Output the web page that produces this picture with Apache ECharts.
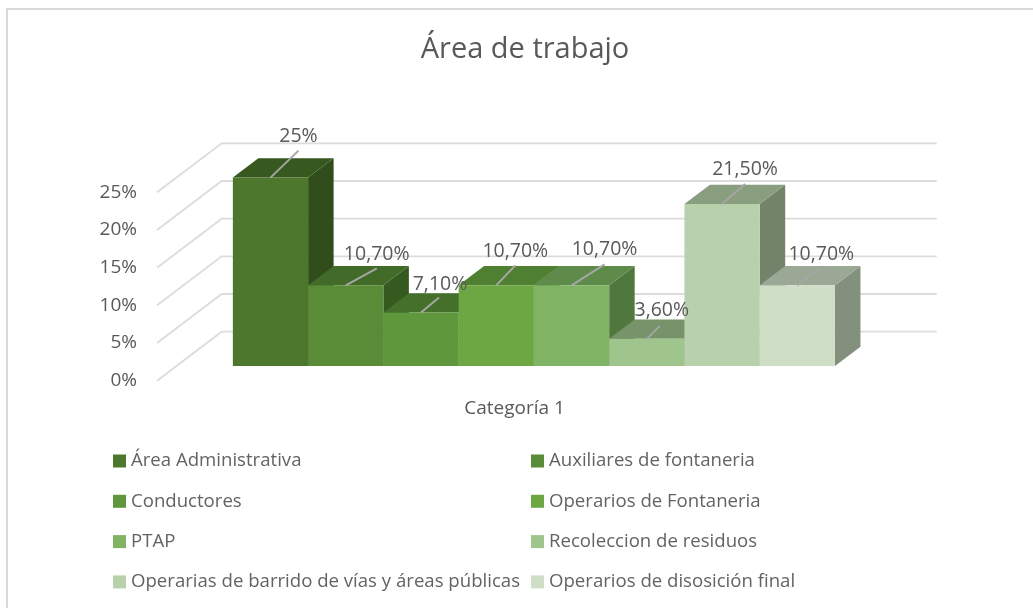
<!DOCTYPE html>
<html>
<head>
<meta charset="utf-8">
<style>
  html, body { margin: 0; padding: 0; background: #fff; }
  #chart { width: 1033px; height: 608px; }
</style>
<script src="https://cdn.jsdelivr.net/npm/echarts@6/dist/echarts.min.js"></script>
</head>
<body>
<div id="chart"></div>
<script>
const categories = ['Categoría 1']
const seriesNames = [
  'Área Administrativa', 'Auxiliares de fontaneria', 'Conductores', 'Operarios de Fontaneria',
  'PTAP', 'Recoleccion de residuos', 'Operarias de barrido de vías y áreas públicas', 'Operarios de disosición final'
]
const seriesValues = [25, 10.7, 7.1, 10.7, 10.7, 3.6, 21.5, 10.7]
const valueLabels = ['25%', '10,70%', '7,10%', '10,70%', '10,70%', '3,60%', '21,50%', '10,70%']
const yTicks = [0, 5, 10, 15, 20, 25]

// colores de cada barra: frente, arriba, lado
const frontColors = ['#4d772d', '#5a8b37', '#5f983c', '#6ca743', '#80b464', '#a0c58c', '#b8d0ac', '#cfdec6']
const topColors = ['#37591f', '#426a28', '#44702b', '#4f8031', '#5f8b4a', '#76936a', '#899e7f', '#9ba896']
const sideColors = ['#304d1b', '#355a1f', '#3a5f24', '#45702b', '#50773d', '#66805b', '#72836a', '#84907e']

// donde termina la linea guia y donde va el texto, respecto al centro de la barra
const leaderEnds = [[28, -27], [31, -17], [18, -15], [19, -20], [33, -21], [13, -13], [23, -20], [22, -17]]
const labelPos = [[28, -41], [31, -31], [19, -28], [19, -34], [33, -36], [15, -28], [23, -35], [24, -31]]

const fontName = '"Open Sans", "Noto Sans", sans-serif'
const textColor = '#595959'
const wallDepth = [64.7, -49] // lado izquierdo, de adelante hacia atras
const barStart = 0.3
const barDepth = 0.394

function wallItem(params, api) {
  const p = api.coord([0, api.value(0)])
  const band = api.size([1, 0])[0]
  const x0 = p[0] - band / 2
  return {
    type: 'polyline',
    shape: {
      points: [
        [x0, p[1]],
        [x0 + wallDepth[0], p[1] + wallDepth[1]],
        [x0 + band + wallDepth[0], p[1] + wallDepth[1]]
      ]
    },
    style: { stroke: '#dcdcdc', lineWidth: 1.8, fill: null }
  }
}

function barItem(i) {
  return function (params, api) {
    const top = api.coord([0, api.value(1)])
    const base = api.coord([0, 0])
    const band = api.size([1, 0])[0]
    const w = band / (seriesValues.length + 1.5)
    const dx = wallDepth[0] * barDepth
    const dy = wallDepth[1] * barDepth
    const xl = top[0] - band / 2 + w * 0.75 + i * w + wallDepth[0] * barStart
    const xr = xl + w
    const yb = base[1] + wallDepth[1] * barStart
    const yt = top[1] + wallDepth[1] * barStart
    const cx = xl + w / 2
    return {
      type: 'group',
      children: [
        {
          type: 'polygon',
          shape: { points: [[xr, yb], [xr + dx, yb + dy], [xr + dx, yt + dy], [xr, yt]] },
          style: { fill: sideColors[i] }
        },
        {
          type: 'polygon',
          shape: { points: [[xl, yt], [xr, yt], [xr + dx, yt + dy], [xl + dx, yt + dy]] },
          style: { fill: topColors[i] }
        },
        {
          type: 'rect',
          shape: { x: xl, y: yt, width: w, height: yb - yt },
          style: { fill: frontColors[i] }
        },
        {
          type: 'line',
          z2: 50,
          shape: { x1: cx, y1: yt, x2: cx + leaderEnds[i][0], y2: yt + leaderEnds[i][1] },
          style: { stroke: '#a6a6a6', lineWidth: 2 }
        },
        {
          type: 'text',
          z2: 60,
          x: cx + labelPos[i][0],
          y: yt + labelPos[i][1],
          style: {
            text: valueLabels[i],
            fill: textColor,
            font: '19.5px ' + fontName,
            align: 'center',
            verticalAlign: 'middle'
          }
        }
      ]
    }
  }
}

const barSeries = seriesNames.map(function (name, i) {
  return {
    name: name,
    type: 'custom',
    z: 3,
    clip: false,
    itemStyle: { color: frontColors[i] },
    encode: { x: 0, y: 1 },
    data: [[0, seriesValues[i]]],
    renderItem: barItem(i)
  }
})

const wallSeries = {
  type: 'custom',
  z: 1,
  silent: true,
  clip: false,
  data: yTicks.map(function (t) { return [t] }),
  encode: { y: 0 },
  renderItem: wallItem
}

const legendBase = {
  orient: 'vertical',
  top: 450,
  padding: 0,
  icon: 'rect',
  itemWidth: 13,
  itemHeight: 13,
  itemGap: 18.3,
  selectedMode: false,
  textStyle: { color: '#636363', fontFamily: fontName, fontSize: 18.6, lineHeight: 22 }
}

const option = {
  animation: false,
  backgroundColor: '#fff',
  title: {
    text: 'Área de trabajo',
    left: 520,
    top: 30,
    textAlign: 'center',
    textStyle: { color: textColor, fontFamily: fontName, fontSize: 29, fontWeight: 'normal' }
  },
  legend: [
    Object.assign({}, legendBase, { left: 113, data: seriesNames.filter(function (n, i) { return i % 2 === 0 }) }),
    Object.assign({}, legendBase, { left: 531, data: seriesNames.filter(function (n, i) { return i % 2 === 1 }) })
  ],
  grid: { left: 157, right: 161, top: 192.3, bottom: 227.3 },
  xAxis: {
    type: 'category',
    data: categories,
    axisLine: { show: false },
    axisTick: { show: false },
    axisLabel: { color: textColor, fontFamily: fontName, fontSize: 19, margin: 18 }
  },
  yAxis: {
    type: 'value',
    min: 0,
    max: 25,
    interval: 5,
    axisLine: { show: false },
    axisTick: { show: false },
    splitLine: { show: false },
    axisLabel: {
      color: textColor,
      fontFamily: fontName,
      fontSize: 19,
      margin: 20,
      formatter: '{value}%'
    }
  },
  graphic: [
    {
      type: 'polyline',
      shape: { points: [[7, 608], [7, 9], [1033, 9]] },
      style: { stroke: '#d9d9d9', lineWidth: 2, fill: null },
      silent: true
    }
  ],
  series: [wallSeries].concat(barSeries)
}

const myChart = echarts.init(document.getElementById('chart'))
myChart.setOption(option)
</script>
</body>
</html>
